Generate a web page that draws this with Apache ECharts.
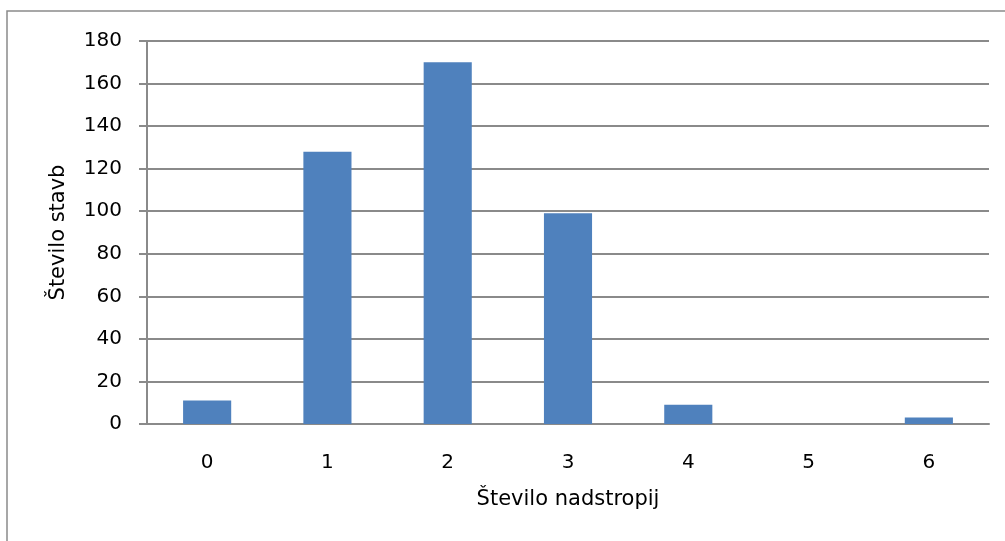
<!DOCTYPE html>
<html>
<head>
<meta charset="utf-8">
<script src="https://cdn.jsdelivr.net/npm/echarts@6/dist/echarts.min.js"></script>
<style>
  html, body { margin: 0; padding: 0; background: #fff; }
  #chart { width: 1005px; height: 541px; }
</style>
</head>
<body>
<div id="chart"></div>
<script>
// Number of buildings by number of floors
const floors = ['0', '1', '2', '3', '4', '5', '6'];
const buildingCounts = [11, 128, 170, 99, 9, 0, 3];
const yTicks = { min: 0, max: 180, interval: 20 };
const xTitle = 'Število nadstropij';
const yTitle = 'Število stavb';

const FONT = '"DejaVu Sans", "Open Sans", sans-serif';
const GRID_COLOR = '#8a8a8a';

const chart = echarts.init(document.getElementById('chart'));
chart.setOption({
  animation: false,
  backgroundColor: '#fff',
  graphic: [{
    type: 'rect',
    shape: { x: 7, y: 11, width: 1200, height: 800 },
    style: { fill: 'none', stroke: '#8a8a8a', lineWidth: 1.5 },
    silent: true
  }],
  grid: { left: 147, right: 16, top: 41, bottom: 117 },
  xAxis: {
    type: 'category',
    data: floors,
    name: xTitle,
    nameLocation: 'middle',
    nameGap: 65,
    nameTextStyle: { fontFamily: FONT, fontSize: 21, color: '#000' },
    axisLine: { lineStyle: { color: GRID_COLOR, width: 2 } },
    axisTick: { show: false },
    axisLabel: { fontFamily: FONT, fontSize: 20, color: '#000', margin: 29 }
  },
  yAxis: {
    type: 'value',
    min: yTicks.min,
    max: yTicks.max,
    interval: yTicks.interval,
    name: yTitle,
    nameLocation: 'middle',
    nameGap: 78,
    nameTextStyle: { fontFamily: FONT, fontSize: 21, color: '#000' },
    axisLine: { show: true, lineStyle: { color: GRID_COLOR, width: 2 } },
    axisTick: { show: true, inside: false, length: 8, lineStyle: { color: GRID_COLOR, width: 2 } },
    splitLine: { lineStyle: { color: GRID_COLOR, width: 2 } },
    axisLabel: { fontFamily: FONT, fontSize: 20, color: '#000', margin: 25 }
  },
  series: [{
    type: 'bar',
    data: buildingCounts,
    barWidth: '40%',
    itemStyle: { color: '#4F81BD' }
  }]
});
</script>
</body>
</html>
